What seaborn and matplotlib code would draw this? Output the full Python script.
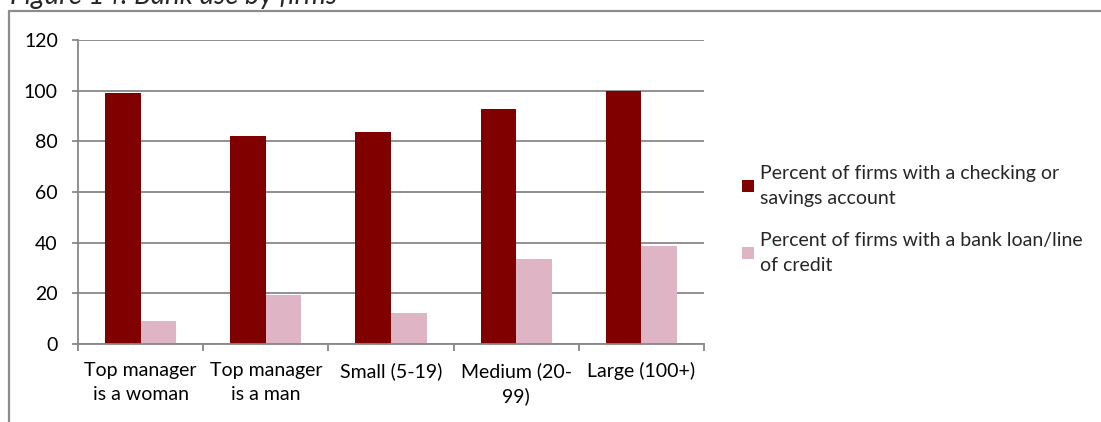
import matplotlib
matplotlib.use("Agg")
import matplotlib.pyplot as plt
from matplotlib.lines import Line2D
from matplotlib.patches import Patch
import seaborn as sns
import pandas as pd

# Data
categories = ["Top manager\nis a woman", "Top manager\nis a man", "Small (5-19)",
              "Medium (20-\n99)", "Large (100+)"]
series_names = ["Percent of firms with a checking or\nsavings account",
                "Percent of firms with a bank loan/line\nof credit"]
checking_savings = [99.2, 82.2, 83.5, 92.9, 100.0]
bank_loan = [9.0, 19.3, 12.1, 33.7, 38.6]
colors = ["#800000", "#DFB4C4"]
title = "Figure 14: Bank use by firms"

df = pd.DataFrame({
    "category": categories * 2,
    "series": [series_names[0]] * len(categories) + [series_names[1]] * len(categories),
    "value": checking_savings + bank_loan,
})

sns.set_theme(style="white")
plt.rcParams["font.family"] = ["Lato", "DejaVu Sans"]

FS = 14
W, H = 1101, 422
fig = plt.figure(figsize=(W / 100, H / 100), dpi=100)
ax = fig.add_axes([78 / W, 1 - 344 / H, (704 - 78) / W, (344 - 40) / H])

sns.barplot(data=df, x="category", y="value", hue="series", order=categories,
            hue_order=series_names, palette=colors, width=0.57, gap=0,
            saturation=1, ax=ax, legend=False, edgecolor="none", linewidth=0)

grid_c = "#888888"
ax.set_ylim(0, 120)
ax.set_yticks(range(0, 121, 20))
ax.set_xlim(-0.5, len(categories) - 0.5)
ax.yaxis.grid(True, color=grid_c, linewidth=1.3)
ax.set_axisbelow(True)
for s in ["top", "right"]:
    ax.spines[s].set_visible(False)
for s in ["left", "bottom"]:
    ax.spines[s].set_color(grid_c)
    ax.spines[s].set_linewidth(1.3)
ax.set_xlabel("")
ax.set_ylabel("")

# category boundary tick marks
ax.set_xticks([i - 0.5 for i in range(len(categories) + 1)], minor=True)
ax.tick_params(axis="x", which="minor", length=5, width=1.3, color=grid_c, direction="out", bottom=True)
ax.tick_params(axis="x", which="major", length=0, pad=13, labelsize=FS, labelcolor="black")
ax.tick_params(axis="y", length=4.5, width=1.3, color=grid_c, direction="out", left=True,
               pad=10, labelsize=FS, labelcolor="black")
for lab in ax.get_xticklabels():
    lab.set_linespacing(1.5)

handles = [Patch(facecolor=c, edgecolor="none") for c in colors]
leg = ax.legend(handles, series_names, loc="upper left",
                bbox_to_anchor=(742 / W, 1 - 165 / H), bbox_transform=fig.transFigure,
                frameon=False, fontsize=FS, handlelength=0.6, handleheight=0.6,
                handletextpad=0.35, labelspacing=1.3, borderaxespad=0, borderpad=0)
for t in leg.get_texts():
    t.set_linespacing(1.55)

# outer frame lines (top and left)
frame_c = "#8C8C8C"
fig.add_artist(Line2D([9 / W, 1.0], [1 - 11 / H, 1 - 11 / H], transform=fig.transFigure,
                      color=frame_c, linewidth=1.6))
fig.add_artist(Line2D([9 / W, 9 / W], [1 - 11 / H, 0], transform=fig.transFigure,
                      color=frame_c, linewidth=1.6))

fig.text(10 / W, 1 - 4 / H, title, fontsize=20, style="italic", va="baseline", ha="left")

fig.savefig("out.png", dpi=100)
